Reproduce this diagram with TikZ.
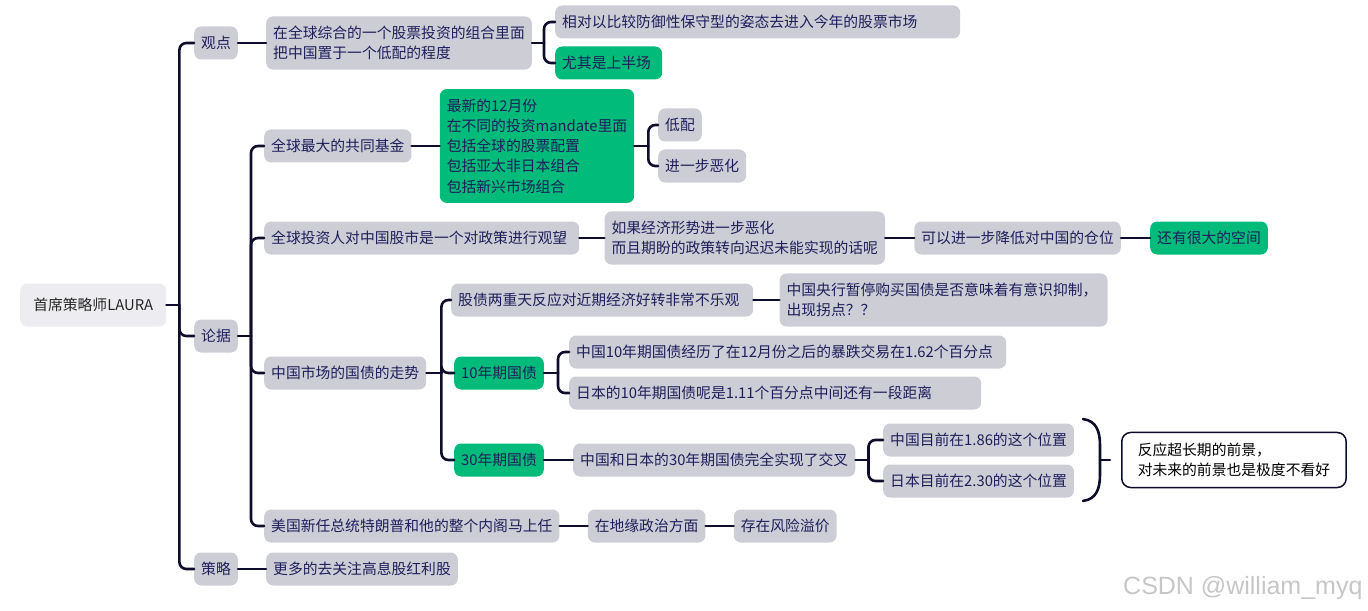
\documentclass[tikz,border=0pt]{standalone}
\usepackage{fontspec}
\setmainfont{Noto Sans CJK SC}
\newfontfamily\markfont{Liberation Sans}
\usepackage{tikz}
\usetikzlibrary{positioning}
\definecolor{ink}{RGB}{30,30,92}
\definecolor{wire}{RGB}{14,14,44}
\definecolor{boxgray}{RGB}{205,205,214}
\definecolor{rootgray}{RGB}{237,236,240}
\definecolor{leafgreen}{RGB}{0,187,122}

\begin{document}
\begin{tikzpicture}[
        x=1bp, y=-1bp,
        node distance=28bp,
        topic/.style={rectangle, fill=boxgray, rounded corners=7bp, text=ink, align=left, inner xsep=7bp, inner ysep=9.5bp, minimum height=33bp, font=\fontsize{14.8bp}{20.3bp}\selectfont},
        hot/.style={topic, fill=leafgreen},
        rootbox/.style={topic, fill=rootgray, minimum width=146bp, minimum height=43bp, text=black!85},
        note/.style={topic, fill=white, draw=wire, line width=1.5bp, rounded corners=9bp, inner xsep=16bp, inner ysep=10.5bp, text=black},
        branch/.style={draw=wire, line width=2.6bp, rounded corners=7bp, line cap=round}
    ]
%
    \fill[white] (0,0) rectangle (1368,611);
    \useasboundingbox (0,0) rectangle (1368,611);
%
    % Nodes
    \node[rootbox, anchor=west] (laura) at (20,305) {首席策略师LAURA};
    \node[topic, anchor=west] (view) at (194,43) {观点};
    \node[topic, anchor=west] (basis) at (194,336) {论据};
    \node[topic, anchor=west] (plan) at (194,569) {策略};
%
    % 观点
    \node[topic, right=of view] (underweight) {在全球综合的一个股票投资的组合里面\\把中国置于一个低配的程度};
    \node[topic, anchor=west, text width=391bp] (defensive) at (555,22) {相对以比较防御性保守型的姿态去进入今年的股票市场};
    \node[hot, anchor=west, text width=93bp] (firsthalf) at (555,63) {尤其是上半场};
%
    % 论据
    \node[topic, anchor=west] (fund) at (264,146) {全球最大的共同基金};
    \node[hot, right=of fund] (mandate) {最新的12月份\\在不同的投资mandate里面\\包括全球的股票配置\\包括亚太非日本组合\\包括新兴市场组合};
    \node[topic, anchor=west] (lowcfg) at (658,125) {低配};
    \node[topic, anchor=west] (worse) at (658,166) {进一步恶化};
%
    \node[topic, anchor=west, text width=301bp] (waitsee) at (264,238) {全球投资人对中国股市是一个对政策进行观望};
    \node[topic, right=25bp of waitsee] (ifworse) {如果经济形势进一步恶化\\而且期盼的政策转向迟迟未能实现的话呢};
    \node[topic, right=29bp of ifworse] (cutpos) {可以进一步降低对中国的仓位};
    \node[hot, right=29bp of cutpos] (room) {还有很大的空间};
%
    \node[topic, anchor=west] (bonds) at (264,373) {中国市场的国债的走势};
    \node[topic, anchor=west, text width=288bp] (split) at (451,300) {股债两重天反应对近期经济好转非常不乐观};
    \node[topic, right=26bp of split, text width=314bp] (pboc) {中国央行暂停购买国债是否意味着有意识抑制，\\出现拐点？？};
    \node[hot, anchor=west] (tenyr) at (454,373) {10年期国债};
    \node[topic, anchor=west, text width=423bp] (cn10) at (569,352) {中国10年期国债经历了在12月份之后的暴跌交易在1.62个百分点};
    \node[topic, anchor=west, text width=398bp] (jp10) at (569,393) {日本的10年期国债呢是1.11个百分点中间还有一段距离};
    \node[hot, anchor=west] (thirtyyr) at (454,460) {30年期国债};
    \node[topic, right=29bp of thirtyyr] (cross) {中国和日本的30年期国债完全实现了交叉};
    \node[topic, anchor=west] (cn30) at (883,440) {中国目前在1.86的这个位置};
    \node[topic, anchor=west] (jp30) at (883,481) {日本目前在2.30的这个位置};
    \node[note, anchor=west] (outlook) at (1121,460) {反应超长期的前景，\\对未来的前景也是极度不看好};
%
    \node[topic, anchor=west] (trump) at (264,526) {美国新任总统特朗普和他的整个内阁马上任};
    \node[topic, right=of trump] (geo) {在地缘政治方面};
    \node[topic, right=of geo] (risk) {存在风险溢价};
%
    % 策略
    \node[topic, right=of plan] (dividend) {更多的去关注高息股红利股};
%
    % Branches
    \coordinate (j-laura) at ([xshift=13bp]laura.east);
    \draw[branch] (laura.east) -- (j-laura);
    \foreach \n in {view, basis, plan} \draw[branch] (j-laura) |- (\n.west);
    \draw[branch] (view.east) -- (underweight.west);
    \coordinate (j-view) at ([xshift=12bp]underweight.east);
    \draw[branch] (underweight.east) -- (j-view);
    \foreach \n in {defensive, firsthalf} \draw[branch] (j-view) |- (\n.west);
%
    \coordinate (j-basis) at ([xshift=13bp]basis.east);
    \draw[branch] (basis.east) -- (j-basis);
    \foreach \n in {fund, waitsee, bonds, trump} \draw[branch] (j-basis) |- (\n.west);
    \draw[branch] (fund.east) -- (mandate.west);
    \coordinate (j-mandate) at ([xshift=14bp]mandate.east);
    \draw[branch] (mandate.east) -- (j-mandate);
    \foreach \n in {lowcfg, worse} \draw[branch] (j-mandate) |- (\n.west);
    \draw[branch] (waitsee.east) -- (ifworse.west);
    \draw[branch] (ifworse.east) -- (cutpos.west);
    \draw[branch] (cutpos.east) -- (room.west);
%
    \coordinate (j-bonds) at ([xshift=15bp]bonds.east);
    \draw[branch] (bonds.east) -- (j-bonds);
    \foreach \n in {split, tenyr, thirtyyr} \draw[branch] (j-bonds) |- (\n.west);
    \draw[branch] (split.east) -- (pboc.west);
    \coordinate (j-tenyr) at ([xshift=14bp]tenyr.east);
    \draw[branch] (tenyr.east) -- (j-tenyr);
    \foreach \n in {cn10, jp10} \draw[branch] (j-tenyr) |- (\n.west);
    \draw[branch] (thirtyyr.east) -- (cross.west);
    \coordinate (j-cross) at ([xshift=13bp]cross.east);
    \draw[branch] (cross.east) -- (j-cross);
    \foreach \n in {cn30, jp30} \draw[branch] (j-cross) |- (\n.west);
%
    % summary bracket
    \coordinate (brace) at ([xshift=-21bp]outlook.west);
    \begin{scope}[shift={(brace)}]
        \draw[branch, rounded corners=0pt] (-17,-41) .. controls (-3,-39) and (0,-28) .. (0,-14) -- (0,14) .. controls (0,28) and (-3,39) .. (-17,41);
    \end{scope}
    \draw[branch] (brace) -- ([xshift=-11bp]outlook.west);
%
    \draw[branch] (trump.east) -- (geo.west);
    \draw[branch] (geo.east) -- (risk.west);
    \draw[branch] (plan.east) -- (dividend.west);
%
    \node[anchor=base west, inner sep=0pt, font=\markfont\fontsize{25bp}{25bp}\selectfont, text=black!22] (mark) at (1123,594) {CSDN @william\_myq};
%
    \end{tikzpicture}
\end{document}
